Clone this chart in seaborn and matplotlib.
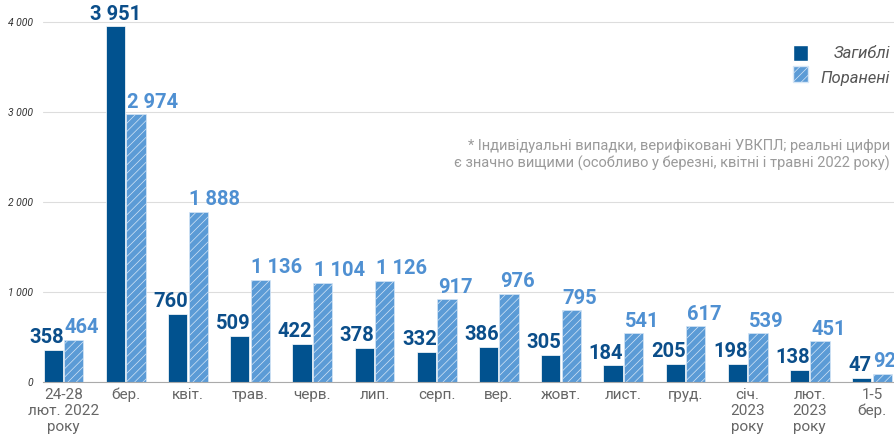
import pandas as pd
import matplotlib.pyplot as plt
import seaborn as sns
from matplotlib.patches import Patch

periods = ['24-28\nлют. 2022\nроку', 'бер.', 'квіт.', 'трав.', 'черв.', 'лип.', 'серп.',
           'вер.', 'жовт.', 'лист.', 'груд.', 'січ.\n2023\nроку', 'лют.\n2023\nроку', '1-5\nбер.']
killed = [358, 3951, 760, 509, 422, 378, 332, 386, 305, 184, 205, 198, 138, 47]
wounded = [464, 2974, 1888, 1136, 1104, 1126, 917, 976, 795, 541, 617, 539, 451, 92]
yticks = [0, 1000, 2000, 3000, 4000]
ytick_labels = ['0', '1 000', '2 000', '3 000', '4 000']

dark = '#01528f'
light = '#5b9bd6'

df = pd.DataFrame({
    'period': periods * 2,
    'count': killed + wounded,
    'type': ['Загиблі'] * len(periods) + ['Поранені'] * len(periods),
})

sns.set_style('white')
plt.rcParams['font.family'] = ['Roboto', 'DejaVu Sans']
plt.rcParams['hatch.linewidth'] = 0.5

fig = plt.figure(figsize=(8.95, 4.48), dpi=100)
ax = fig.add_axes([43 / 895, 66 / 448, 1 - 43 / 895, 1 - 66 / 448])

sns.barplot(data=df, x='period', y='count', hue='type', palette=[dark, light], saturation=1,
            width=0.66, gap=0.06, ax=ax, legend=False, edgecolor='white', linewidth=0.5)

for bar in ax.containers[1]:
    bar.set_hatch('////')
    bar.set_edgecolor('#d6e6f6')

for i in range(len(periods)):
    b0 = ax.containers[0][i]
    b1 = ax.containers[1][i]
    if killed[i] > wounded[i]:
        x0, ha0 = b0.get_x() + b0.get_width() / 2, 'center'
    else:
        x0, ha0 = b0.get_x() + b0.get_width() + 0.01, 'right'
    ax.annotate(f'{killed[i]:,}'.replace(',', ' '), (x0, killed[i]), xytext=(0, 2),
                textcoords='offset points', ha=ha0, va='bottom',
                fontsize=14.5, fontweight='bold', color='#0b4e8a')
    ax.annotate(f'{wounded[i]:,}'.replace(',', ' '), (b1.get_x() + 0.01, wounded[i]), xytext=(0, 2),
                textcoords='offset points', ha='left', va='bottom',
                fontsize=14.5, fontweight='bold', color='#4f90d2')

ax.set_xlim(-0.33, 13.37)
ax.set_ylim(0, 4244)
ax.set_yticks(yticks)
ax.set_yticklabels(ytick_labels, fontsize=7.5, style='italic', color='#333333')
ax.tick_params(axis='y', length=0, pad=7)
ax.tick_params(axis='x', length=0, pad=4, labelsize=11, labelcolor='#666666')
ax.grid(axis='y', color='#dddddd', linewidth=0.8)
ax.set_axisbelow(True)
ax.set_xlabel('')
ax.set_ylabel('')
for s in ['top', 'right', 'left']:
    ax.spines[s].set_visible(False)
ax.spines['bottom'].set_color('#aaaaaa')

handles = [Patch(facecolor=dark, edgecolor='white'),
           Patch(facecolor=light, edgecolor='#d6e6f6', hatch='////')]
ax.legend(handles, ['', ''], loc='upper right', bbox_to_anchor=(815 / 895, 1 - 38 / 448),
          bbox_transform=fig.transFigure, frameon=False, handlelength=1.1, handleheight=1.4,
          handletextpad=0, borderpad=0, labelspacing=0.35)
fig.text(890 / 895, 1 - 53 / 448, 'Загиблі', ha='right', va='center',
         fontsize=12, style='italic', color='#555555')
fig.text(890 / 895, 1 - 78 / 448, 'Поранені', ha='right', va='center',
         fontsize=12, style='italic', color='#555555')

fig.text(890 / 895, 1 - 155 / 448,
         '* Індивідуальні випадки, верифіковані УВКПЛ; реальні цифри\n'
         'є значно вищими (особливо у березні, квітні і травні 2022 року)',
         ha='right', va='center', fontsize=10.5, color='#9a9a9a', linespacing=1.3,
         multialignment='right')

plt.savefig('out.png', dpi=100)
plt.close()
